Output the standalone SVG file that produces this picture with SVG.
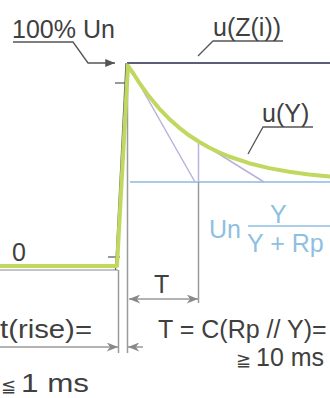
<svg xmlns="http://www.w3.org/2000/svg" width="330" height="398" viewBox="0 0 330 398">
<defs>
<style>
text{font-family:"Liberation Sans",Arial,sans-serif;font-size:25px;fill:#404040}
.blue{fill:#8fbfe0}
.dim{stroke:#9a9a9a;stroke-width:1.5;fill:none}
.lead{stroke:#555;stroke-width:1.3;fill:none}
.tan{stroke:#bcb0dc;stroke-width:1.5;fill:none}
.green{stroke:#c0d860;stroke-width:4;fill:none;stroke-linejoin:round;stroke-linecap:round}
.sym{font-family:"DejaVu Sans",sans-serif;font-size:18px}
</style>
<marker id="ah" viewBox="0 0 10 8" refX="10" refY="4" markerWidth="8" markerHeight="6" orient="auto">
<path d="M0,0 L10,4 L0,8 L3,4 Z" fill="#888"/>
</marker>
<marker id="ahd" viewBox="0 0 10 8" refX="10" refY="4" markerWidth="8" markerHeight="6" orient="auto">
<path d="M0,0 L10,4 L0,8 Z" fill="#555"/>
</marker>
</defs>

<g id="connectors">
<line x1="127" y1="63" x2="330" y2="63" stroke="#5c5c7e" stroke-width="2"/>
<line x1="130" y1="182" x2="330" y2="182" stroke="#a9cbea" stroke-width="2"/>
<line class="dim" x1="127.5" y1="63" x2="127.5" y2="353"/>
<line class="dim" x1="118.5" y1="270" x2="118.5" y2="353"/>
<line x1="0" y1="270" x2="118" y2="270" stroke="#8a8a8a" stroke-width="1.2"/>
<line class="dim" x1="198.5" y1="182" x2="198.5" y2="303"/>
<line class="tan" x1="129" y1="66" x2="195" y2="182"/>
<line class="tan" x1="198" y1="141" x2="264" y2="182"/>
<line class="tan" x1="198.5" y1="141" x2="198.5" y2="182"/>
<line x1="115" y1="83" x2="127" y2="83" stroke="#555" stroke-width="1.2"/>
<line x1="108" y1="257" x2="120" y2="257" stroke="#555" stroke-width="1.2"/>
<line x1="115.5" y1="270" x2="126" y2="63" stroke="#666" stroke-width="1.3"/>
<path class="green" d="M0,266 L117,266 L128,66"/>
<path class="green" d="M128,66 L134,74.5 L139,82.3 L149,96.3 L159,108.3 L169,118.7 L179,127.6 L189,135.3 L199,141.8 L209,147.5 L219,152.3 L229,156.5 L249,163.2 L269,168.1 L289,171.7 L309,174.4 L330,176.5"/>
<line class="dim" x1="163" y1="299" x2="129" y2="299" marker-end="url(#ah)"/>
<line class="dim" x1="163" y1="299" x2="198" y2="299" marker-end="url(#ah)"/>
<line class="dim" x1="0" y1="347" x2="118" y2="347" marker-end="url(#ah)"/>
<line class="dim" x1="143" y1="347" x2="128" y2="347" marker-end="url(#ah)"/>
<polyline class="lead" points="13,42 73,42 88,63 115,63" marker-end="url(#ahd)"/>
<polyline class="lead" points="283,41 213,41 198,56"/>
<polyline class="lead" points="313,127 263,127 248,154"/>
</g>

<g id="label-100">
<text x="12" y="38">100% Un</text>
</g>
<g id="label-uzi">
<text x="213" y="36">u(Z(i))</text>
</g>
<g id="label-uy">
<text x="262" y="122">u(Y)</text>
</g>
<g id="label-zero">
<text x="12" y="261">0</text>
</g>
<g id="label-fraction">
<text class="blue" x="209" y="238" font-size="24">Un</text>
<text class="blue" x="270" y="223" font-size="24">Y</text>
<line x1="248" y1="226" x2="330" y2="226" stroke="#8fbfe0" stroke-width="1.5"/>
<text class="blue" x="247" y="252" font-size="25">Y + Rp</text>
</g>
<g id="label-T">
<text x="154" y="293">T</text>
</g>
<g id="label-trise">
<text x="0" y="338" textLength="92" lengthAdjust="spacingAndGlyphs">t(rise)=</text>
<text x="1" y="392"><tspan class="sym">≦</tspan><tspan x="21" textLength="68" lengthAdjust="spacingAndGlyphs">1 ms</tspan></text>
</g>
<g id="label-Tformula">
<text x="158" y="338">T = C(Rp // Y)=</text>
<text x="236" y="366"><tspan class="sym">≧</tspan><tspan x="256">10 ms</tspan></text>
</g>
</svg>
